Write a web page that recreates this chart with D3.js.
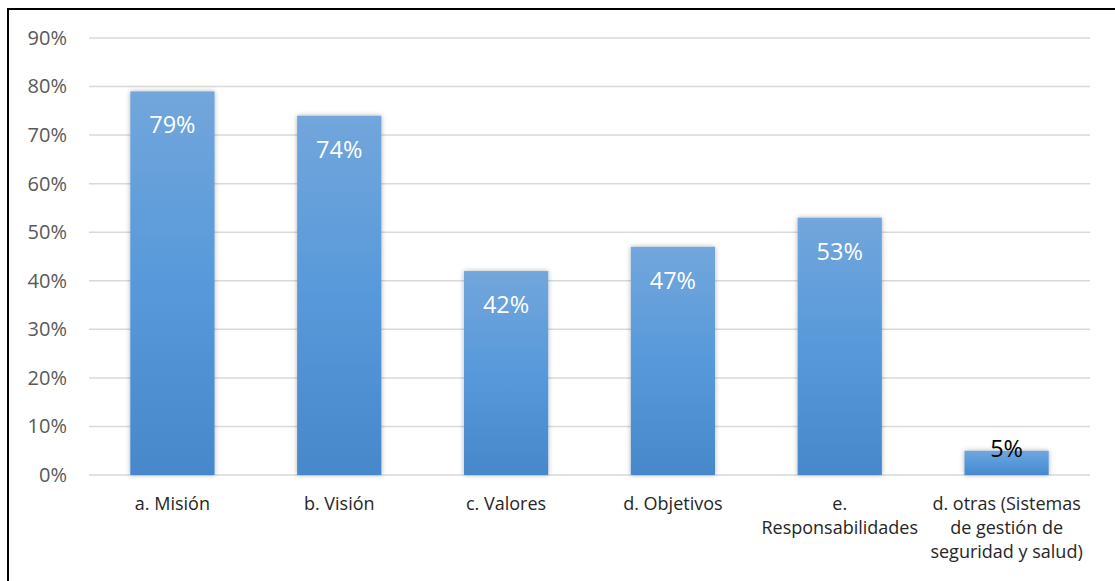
<!DOCTYPE html>
<html>
<head>
<meta charset="utf-8">
<script src="https://cdn.jsdelivr.net/npm/d3@7"></script>
<style>
  body { margin: 0; background: #fff; }
  svg { display: block; }
</style>
</head>
<body>
<div id="chart"></div>
<script>
const categories = [
    ["a. Misión"],
    ["b. Visión"],
    ["c. Valores"],
    ["d. Objetivos"],
    ["e.", "Responsabilidades"],
    ["d. otras (Sistemas", "de gestión de", "seguridad y salud)"]
];
const values = [0.79, 0.74, 0.42, 0.47, 0.53, 0.05];
const yTicks = [0, 0.1, 0.2, 0.3, 0.4, 0.5, 0.6, 0.7, 0.8, 0.9];

const width = 1115;
const height = 581;
const margin = {top: 38, bottom: 106, left: 89, right: 25};
const font = "'Open Sans', 'Noto Sans', sans-serif";

const svg = d3.select('#chart')
    .append('svg')
    .attr('width', width)
    .attr('height', height);

// frame (right and bottom edges fall outside the picture)
svg.append('rect')
    .attr('x', 8).attr('y', 9)
    .attr('width', width + 10).attr('height', height + 10)
    .attr('fill', 'none')
    .attr('stroke', '#000')
    .attr('stroke-width', 2);

const defs = svg.append('defs');
const grad = defs.append('linearGradient')
    .attr('id', 'barGrad')
    .attr('x1', 0).attr('y1', 0).attr('x2', 0).attr('y2', 1);
grad.append('stop').attr('offset', '0%').attr('stop-color', '#72a6dc');
grad.append('stop').attr('offset', '50%').attr('stop-color', '#5799da');
grad.append('stop').attr('offset', '100%').attr('stop-color', '#4788ca');

const shadow = defs.append('filter')
    .attr('id', 'shadow')
    .attr('x', '-20%').attr('y', '-20%').attr('width', '140%').attr('height', '140%');
shadow.append('feDropShadow')
    .attr('dx', 0).attr('dy', 0)
    .attr('stdDeviation', 2.5)
    .attr('flood-color', '#000')
    .attr('flood-opacity', 0.3);

const x = d3.scaleBand()
    .domain(d3.range(values.length))
    .range([margin.left, width - margin.right])
    .paddingInner(0.495)
    .paddingOuter(0.2475);

const y = d3.scaleLinear()
    .domain([0, 0.9])
    .range([height - margin.bottom, margin.top]);

// gridlines
svg.append('g')
    .selectAll('line')
    .data(yTicks)
    .join('line')
        .attr('x1', margin.left)
        .attr('x2', width - margin.right)
        .attr('y1', d => y(d))
        .attr('y2', d => y(d))
        .attr('stroke', '#d9d9d9')
        .attr('stroke-width', 1.5);

// y axis labels
const yAxis = svg.append('g')
    .attr('transform', `translate(${margin.left}, 0)`)
    .call(d3.axisLeft(y).tickValues(yTicks).tickFormat(d3.format('.0%')).tickSize(0).tickPadding(22));
yAxis.select('.domain').remove();
yAxis.selectAll('text')
    .attr('font-family', font)
    .attr('font-size', '20px')
    .attr('fill', '#595959');

// bars
svg.append('g')
    .selectAll('rect')
    .data(values)
    .join('rect')
        .attr('x', (d, i) => x(i))
        .attr('y', d => y(d))
        .attr('width', x.bandwidth())
        .attr('height', d => y(0) - y(d))
        .attr('fill', 'url(#barGrad)')
        .attr('filter', 'url(#shadow)');

// value labels
svg.append('g')
    .selectAll('text')
    .data(values)
    .join('text')
        .attr('x', (d, i) => x(i) + x.bandwidth() / 2)
        .attr('y', d => (y(0) - y(d)) < 40 ? y(d) + 6 : y(d) + 42)
        .attr('text-anchor', 'middle')
        .attr('font-family', font)
        .attr('font-size', '23.5px')
        .attr('fill', d => (y(0) - y(d)) < 40 ? '#000' : '#fff')
        .text(d => d3.format('.0%')(d));

// category labels
const xLabels = svg.append('g')
    .selectAll('text')
    .data(categories)
    .join('text')
        .attr('x', (d, i) => x(i) + x.bandwidth() / 2)
        .attr('y', y(0) + 35)
        .attr('text-anchor', 'middle')
        .attr('font-family', font)
        .attr('font-size', '18px')
        .attr('fill', '#262626');
xLabels.selectAll('tspan')
    .data(d => d)
    .join('tspan')
        .attr('x', function () { return d3.select(this.parentNode).attr('x'); })
        .attr('dy', (d, i) => i === 0 ? 0 : 24)
        .text(d => d);
</script>
</body>
</html>
